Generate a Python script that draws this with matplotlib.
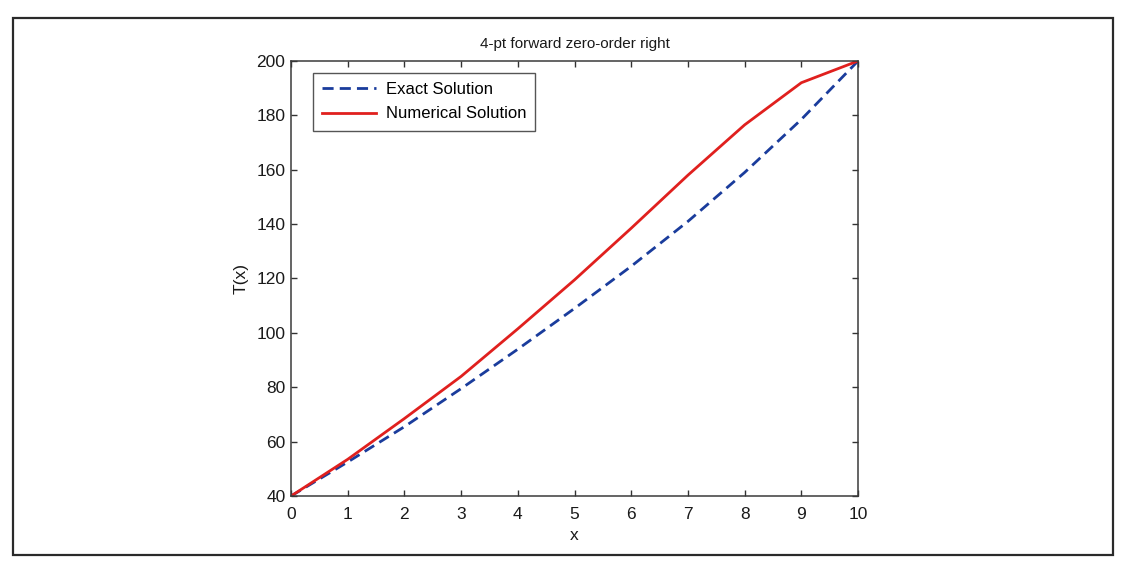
import matplotlib
matplotlib.use("Agg")
import matplotlib.pyplot as plt
from matplotlib.patches import Rectangle

plt.rcParams['font.family'] = ['Liberation Sans', 'DejaVu Sans']

x_vals = [0, 1, 2, 3, 4, 5, 6, 7, 8, 9, 10]
exact_T = [40, 52.5, 65.5, 79.5, 94, 109, 124.5, 141, 159, 178.5, 200]
numerical_T = [40, 53.5, 68.5, 84, 101.5, 119.5, 138.5, 158, 176.5, 192, 200]
x_ticks = [0, 1, 2, 3, 4, 5, 6, 7, 8, 9, 10]
y_ticks = [40, 60, 80, 100, 120, 140, 160, 180, 200]

fig = plt.figure(figsize=(11.25, 5.63), dpi=100)
fig.patches.append(Rectangle((0.0116, 0.0142), 0.9777, 0.9538, transform=fig.transFigure,
                             fill=False, edgecolor='#2a2a2a', linewidth=1.6))

ax = fig.add_axes([0.2587, 0.119, 0.504, 0.7727])
ax.plot(x_vals, exact_T, linestyle='--', color='#1a3c9c', linewidth=2.0,
        dashes=(4, 2.2), label='Exact Solution')
ax.plot(x_vals, numerical_T, linestyle='-', color='#e0201e', linewidth=2.0,
        label='Numerical Solution')

ax.set_xlim(0, 10)
ax.set_ylim(40, 200)
ax.set_xticks(x_ticks)
ax.set_yticks(y_ticks)
ax.tick_params(direction='in', length=4, width=1, colors='#333333', labelcolor='#1a1a1a',
               labelsize=12.5, top=True, right=True)
ax.tick_params(axis='x', pad=8)
ax.tick_params(axis='y', pad=4)
for s in ax.spines.values():
    s.set_color('#3a3a3a')
    s.set_linewidth(1.1)

ax.set_title('4-pt forward zero-order right', fontsize=11, pad=9, color='#1a1a1a')
ax.set_xlabel('x', fontsize=12.5, labelpad=4, color='#1a1a1a')
ax.set_ylabel('T(x)', fontsize=12.5, labelpad=6, color='#1a1a1a')

leg = ax.legend(loc='upper left', bbox_to_anchor=(0.039, 0.972), borderaxespad=0,
                fontsize=12, frameon=True, fancybox=False, handlelength=3.2,
                borderpad=0.55, labelspacing=0.55, handletextpad=0.6)
leg.get_frame().set_edgecolor('#2a2a2a')
leg.get_frame().set_linewidth(1.0)

fig.savefig('out.png', dpi=100)
